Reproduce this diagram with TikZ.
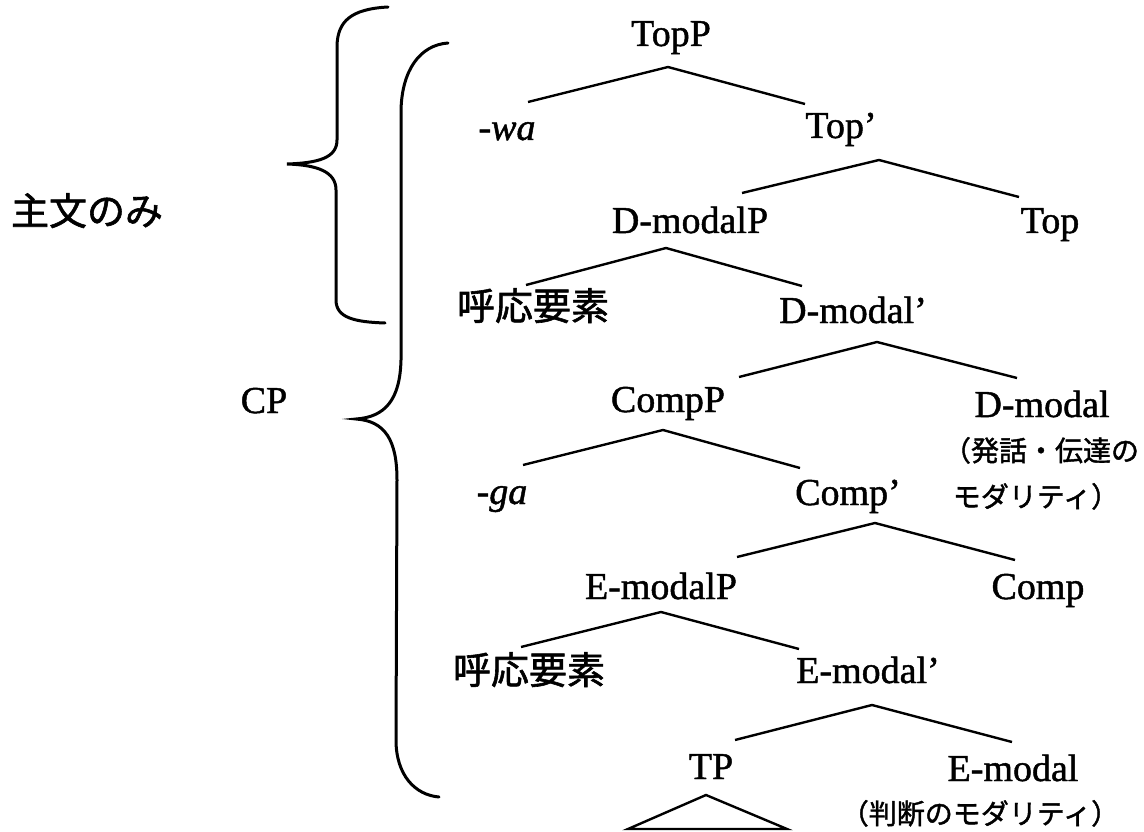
\documentclass[tikz,border=0pt]{standalone}
\usepackage{fontspec}
\setmainfont{Liberation Serif}[FakeBold=1.2]
\newfontfamily\jp{Noto Sans CJK JP}[FakeBold=1.5]
\usetikzlibrary{calc}
\begin{document}
\begin{tikzpicture}[x=1pt,y=-1pt,
  lab/.style={anchor=base,inner sep=0pt,font=\fontsize{38}{40}\selectfont},
  jlab/.style={anchor=base,inner sep=0pt,font=\jp\fontsize{38}{40}\selectfont},
  note/.style={anchor=base,inner sep=0pt,font=\jp\fontsize{28}{30}\selectfont},
  edge/.style={line width=2.4pt},
  brace/.style={line width=3pt,line cap=round}]
\useasboundingbox (0,0) rectangle (1144,832);

% side labels
\node[jlab] (main) at (87,225) {主文のみ};
\node[lab] (CP) at (264,413) {CP};

% tree nodes
\node[lab] (TopP) at (671,46) {TopP};
\node[lab] (wa) at (507,140) {-\textit{wa}};
\node[lab] (Topb) at (841,138) {Top’};
\node[lab] (DmP) at (690,233) {D-modalP};
\node[lab] (Top) at (1050,233) {Top};
\node[jlab] (koo1) at (533,320) {呼応要素};
\node[lab] (Dmb) at (853,323) {D-modal’};
\node[lab] (CompP) at (668,412) {CompP};
\node[lab] (Dm) at (1042,417) {D-modal};
\node[note] (n1) at (1041,461) {（発話・伝達の};
\node[lab] (ga) at (502,504) {-\textit{ga}};
\node[lab] (Compb) at (848,505) {Comp’};
\node[note] (n2) at (1036,507) {モダリティ）};
\node[lab] (EmP) at (661,599) {E-modalP};
\node[lab] (Comp) at (1038,599) {Comp};
\node[jlab] (koo2) at (529,684) {呼応要素};
\node[lab] (Emb) at (868,683) {E-modal’};
\node[lab] (TP) at (711,779) {TP};
\node[lab] (Em) at (1013,781) {E-modal};
\node[note] (n3) at (980,824) {（判断のモダリティ）};

% edges
\draw[edge] ($(wa.base)+(21,-38)$) -- ($(TopP.base)+(-3,21)$) -- ($(Topb.base)+(-36,-34)$);
\draw[edge] ($(DmP.base)+(52,-40)$) -- ($(Topb.base)+(38,22)$) -- ($(Top.base)+(-31,-36)$);
\draw[edge] ($(koo1.base)+(-7,-35)$) -- ($(DmP.base)+(-24,15)$) -- ($(Dmb.base)+(-51,-37)$);
\draw[edge] ($(CompP.base)+(71,-35)$) -- ($(Dmb.base)+(24,19)$) -- ($(Dm.base)+(-25,-39)$);
\draw[edge] ($(ga.base)+(21,-39)$) -- ($(CompP.base)+(-5,18)$) -- ($(Compb.base)+(-48,-37)$);
\draw[edge] ($(EmP.base)+(76,-42)$) -- ($(Compb.base)+(27,18)$) -- ($(Comp.base)+(-23,-39)$);
\draw[edge] ($(koo2.base)+(-8,-37)$) -- ($(EmP.base)+(0,13)$) -- ($(Emb.base)+(-69,-34)$);
\draw[edge] ($(TP.base)+(24,-39)$) -- ($(Emb.base)+(4,22)$) -- ($(Em.base)+(-1,-39)$);
\draw[edge] ($(TP.base)+(-5,16)$) -- ($(TP.base)+(-83,50)$) -- ($(TP.base)+(76,50)$) -- cycle;

% braces
\draw[brace] (388,7) .. controls (350,9) and (338,22) .. (337,45)
  -- (337,140) .. controls (337,158) and (318,163) .. (287,164)
  .. controls (318,165) and (336,172) .. (336,190)
  -- (336,300) .. controls (336,318) and (355,322) .. (385,323);
\draw[brace] (448,43) .. controls (420,45) and (402,70) .. (401,110)
  -- (401,360) .. controls (400,400) and (385,417) .. (356,419)
  .. controls (385,421) and (397,440) .. (397,480)
  -- (396,740) .. controls (396,775) and (415,795) .. (439,797);
\end{tikzpicture}
\end{document}
